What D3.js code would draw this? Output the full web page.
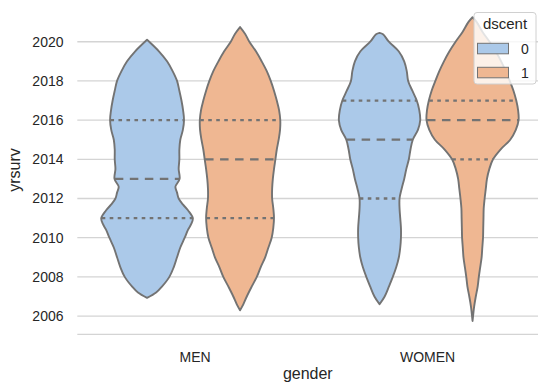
<!DOCTYPE html>
<html>
<head>
<meta charset="utf-8">
<script src="https://cdn.jsdelivr.net/npm/d3@7"></script>
<style>
  body { margin: 0; background: #fff; }
  svg { display: block; }
  text { font-family: "Liberation Sans", Arial, sans-serif; fill: #262626; }
</style>
</head>
<body>
<svg id="chart" width="538" height="383"></svg>
<script>
// ---- data ----
const categories = ["MEN", "WOMEN"];
const hueLevels = ["0", "1"];
const yTicks = [2006, 2008, 2010, 2012, 2014, 2016, 2018, 2020];

// Kernel density profiles: [yrsurv, relative density] (peak density = 1)
const densityMen0 = [
  [2020.1, 0], [2019.5, .26], [2019, .43], [2018.5, .55], [2018, .645], [2017.5, .695],
  [2017, .74], [2016.5, .775], [2016, .795], [2015.5, .77], [2015, .715], [2014.5, .695],
  [2014, .695], [2013.5, .68], [2013, .70], [2012.6, .61], [2012.3, .645], [2012, .68],
  [2011.7, .77], [2011.4, .88], [2011, .985], [2010.7, .95], [2010.4, .88], [2010, .81],
  [2009.5, .715], [2009, .645], [2008.5, .575], [2008, .48], [2007.5, .32], [2007.2, .195],
  [2006.93, 0]
];
const densityMen1 = [
  [2020.75, 0], [2020.4, .11], [2020, .2], [2019.5, .345], [2019, .465], [2018.5, .575],
  [2018, .66], [2017.5, .73], [2017, .79], [2016.5, .84], [2016, .865], [2015.5, .86],
  [2015, .83], [2014.5, .79], [2014, .76], [2013.5, .73], [2013, .705], [2012.5, .69],
  [2012, .69], [2011.5, .715], [2011, .73], [2010.5, .715], [2010, .68], [2009.5, .61],
  [2009, .54], [2008.5, .445], [2008, .36], [2007.5, .25], [2007, .145], [2006.6, .07],
  [2006.3, 0]
];
const densityWomen0 = [
  [2020.45, 0], [2020.38, .075], [2020, .2], [2019.5, .415], [2019, .53], [2018.5, .585],
  [2018, .615], [2017.5, .705], [2017, .80], [2016.5, .855], [2016, .875], [2015.5, .825],
  [2015, .715], [2014.5, .665], [2014, .63], [2013.5, .575], [2013, .53], [2012.5, .475],
  [2012, .43], [2011.5, .43], [2011, .445], [2010.5, .46], [2010, .46], [2009.5, .445],
  [2009, .415], [2008.5, .36], [2008, .285], [2007.5, .2], [2007, .11], [2006.6, 0]
];
const densityWomen1 = [
  [2021.25, 0], [2021, .09], [2020.5, .215], [2020, .365], [2019.5, .5], [2019, .615],
  [2018.5, .715], [2018, .80], [2017.5, .88], [2017, .94], [2016.5, .98], [2016, .99],
  [2015.5, .93], [2015, .81], [2014.5, .60], [2014, .44], [2013.5, .36], [2013, .31],
  [2012.5, .285], [2012, .26], [2011.5, .24], [2011, .235], [2010.5, .23], [2010, .225],
  [2009.5, .21], [2009, .195], [2008.5, .165], [2008, .135], [2007.5, .11], [2007, .07],
  [2006.5, .035], [2005.75, 0]
];

// Quartiles per violin, in order MEN/0, MEN/1, WOMEN/0, WOMEN/1
const q1Values = [2011, 2011, 2012, 2014];
const medianValues = [2013, 2014, 2015, 2016];
const q3Values = [2016, 2016, 2017, 2017];

const violins = [
  { gender: "MEN", dscent: "0", profile: densityMen0 },
  { gender: "MEN", dscent: "1", profile: densityMen1 },
  { gender: "WOMEN", dscent: "0", profile: densityWomen0 },
  { gender: "WOMEN", dscent: "1", profile: densityWomen1 }
];
violins.forEach((v, i) => {
  v.q1 = q1Values[i]; v.median = medianValues[i]; v.q3 = q3Values[i];
});

// ---- layout ----
const svg = d3.select("#chart");
const plot = { left: 77.3, right: 542.3, top: 0, bottom: 334.3 };

const x = d3.scaleBand().domain(categories).range([plot.left, plot.right]);
const hue = d3.scaleBand().domain(hueLevels)
  .range([-0.4 * x.bandwidth(), 0.4 * x.bandwidth()]);
const y = d3.scaleLinear().domain([2005.07, 2022.13]).range([plot.bottom, plot.top]);
const halfWidth = d3.scaleLinear().domain([0, 1]).range([0, hue.bandwidth() / 2]);
const fill = d3.scaleOrdinal().domain(hueLevels).range(["#abc9e9", "#efb792"]);
const lineGray = "#737373";

// ---- grid ----
svg.append("g").selectAll("line").data(yTicks).join("line")
  .attr("x1", plot.left).attr("x2", plot.right)
  .attr("y1", d => y(d)).attr("y2", d => y(d))
  .attr("stroke", "#d4d4d4").attr("stroke-width", 1.3);
svg.append("line")
  .attr("x1", plot.left).attr("x2", plot.right)
  .attr("y1", plot.bottom).attr("y2", plot.bottom)
  .attr("stroke", "#d4d4d4").attr("stroke-width", 1.3);

// ---- violins ----
function centerOf(v) {
  return x(v.gender) + x.bandwidth() / 2 + hue(v.dscent) + hue.bandwidth() / 2;
}
function densityAt(profile, val) {
  for (let i = 0; i < profile.length - 1; i++) {
    const a = profile[i], b = profile[i + 1];
    if ((val <= a[0] && val >= b[0])) {
      const t = (a[0] - val) / (a[0] - b[0]);
      return a[1] + t * (b[1] - a[1]);
    }
  }
  return 0;
}

const gV = svg.append("g");
violins.forEach(v => {
  const cx = centerOf(v);
  const area = d3.area()
    .y(d => y(d[0]))
    .x0(d => cx - halfWidth(d[1]))
    .x1(d => cx + halfWidth(d[1]))
    .curve(d3.curveCatmullRom.alpha(0.5));
  gV.append("path")
    .attr("d", area(v.profile))
    .attr("fill", fill(v.dscent))
    .attr("stroke", lineGray)
    .attr("stroke-width", 1.9)
    .attr("stroke-linejoin", "round");

  const inner = [
    { val: v.q1, dash: "3.6,4.4" },
    { val: v.median, dash: "8.5,6.5" },
    { val: v.q3, dash: "3.6,4.4" }
  ];
  inner.forEach(q => {
    const hw = halfWidth(densityAt(v.profile, q.val)) * 0.99;
    gV.append("line")
      .attr("x1", cx - hw).attr("x2", cx + hw)
      .attr("y1", y(q.val)).attr("y2", y(q.val))
      .attr("stroke", lineGray)
      .attr("stroke-width", 2.3)
      .attr("stroke-dasharray", q.dash);
  });
});

// ---- axes ----
svg.append("g").selectAll("text").data(yTicks).join("text")
  .attr("x", 63.5).attr("y", d => y(d)).attr("dy", "0.35em")
  .attr("text-anchor", "end").attr("font-size", 14)
  .text(d => d);

svg.append("g").selectAll("text").data(categories).join("text")
  .attr("x", d => x(d) + x.bandwidth() / 2 + 1.5).attr("y", 361.5)
  .attr("text-anchor", "middle").attr("font-size", 14)
  .text(d => d);

svg.append("text")
  .attr("transform", "translate(20,170) rotate(-90)")
  .attr("text-anchor", "middle").attr("font-size", 16)
  .text("yrsurv");

svg.append("text")
  .attr("x", (plot.left + plot.right) / 2 - 2).attr("y", 379)
  .attr("text-anchor", "middle").attr("font-size", 16)
  .text("gender");

// ---- legend ----
const lg = svg.append("g");
lg.append("rect")
  .attr("x", 474).attr("y", 12.5).attr("width", 62).attr("height", 71.5)
  .attr("rx", 3).attr("fill", "#fff").attr("fill-opacity", 0.8)
  .attr("stroke", "#d0d0d0").attr("stroke-width", 1);
lg.append("text")
  .attr("x", 505).attr("y", 29).attr("text-anchor", "middle").attr("font-size", 15)
  .text("dscent");
hueLevels.forEach((h, i) => {
  const yy = 43.3 + i * 24;
  lg.append("rect")
    .attr("x", 477.5).attr("y", yy).attr("width", 31).attr("height", 10.5)
    .attr("fill", fill(h)).attr("stroke", lineGray).attr("stroke-width", 1);
  lg.append("text")
    .attr("x", 521).attr("y", yy + 10.7).attr("font-size", 14)
    .text(h);
});
</script>
</body>
</html>
